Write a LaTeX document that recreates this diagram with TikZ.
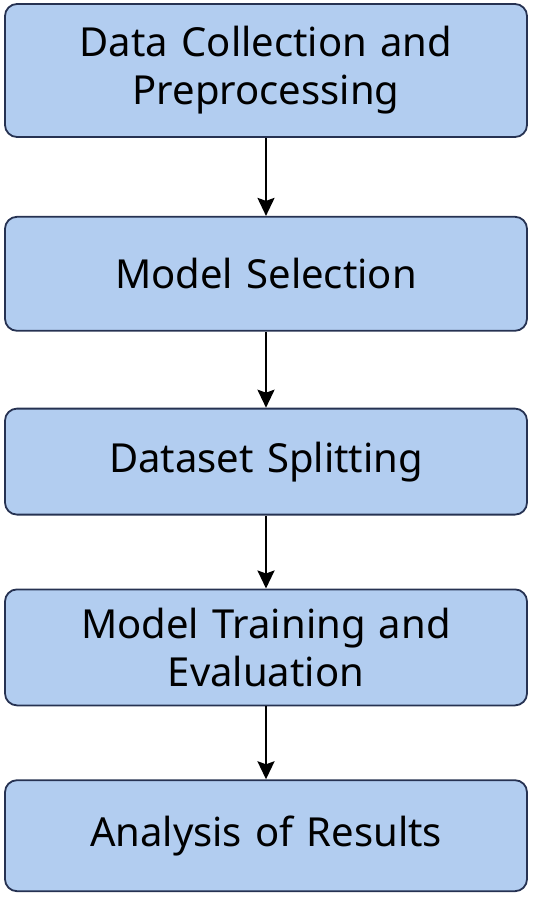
\documentclass[tikz,border=0pt]{standalone}
\usepackage{fontspec}
\setmainfont{Noto Sans}
\usetikzlibrary{arrows.meta, positioning}
\definecolor{cBoxFill}{RGB}{178,205,240}
\definecolor{cBoxLine}{RGB}{38,50,82}
\tikzset{
	stage/.style   ={rectangle, rounded corners=12pt, minimum width=522pt, text width=510pt, align=center, draw=cBoxLine, line width=1.8pt, fill=cBoxFill, font=\fontsize{40}{48}\selectfont, inner sep=0pt},
	flowarrow/.style={-{Stealth[length=18pt, width=17pt, inset=3pt]}, line width=2.3pt},
}
\begin{document}
\begin{tikzpicture}[x=1pt, y=1pt, node distance=75pt]
	\useasboundingbox (0,0) rectangle (533,-897);
	\node[stage, minimum height=133pt] at (266,-70.5) (dc) {Data Collection and\\Preprocessing};
	\node[stage, minimum height=114pt, below=78pt of dc] (ms) {Model Selection};
	\node[stage, minimum height=106pt, below=76pt of ms] (ds) {Dataset Splitting};
	\node[stage, minimum height=116pt, below=73pt of ds] (mt) {Model Training and\\Evaluation};
	\node[stage, minimum height=111pt, below=73pt of mt] (ar) {Analysis of Results};
	\draw[flowarrow] (dc) -- (ms); \draw[flowarrow] (ms) -- (ds); \draw[flowarrow] (ds) -- (mt); \draw[flowarrow] (mt) -- (ar);
\end{tikzpicture}
\end{document}
